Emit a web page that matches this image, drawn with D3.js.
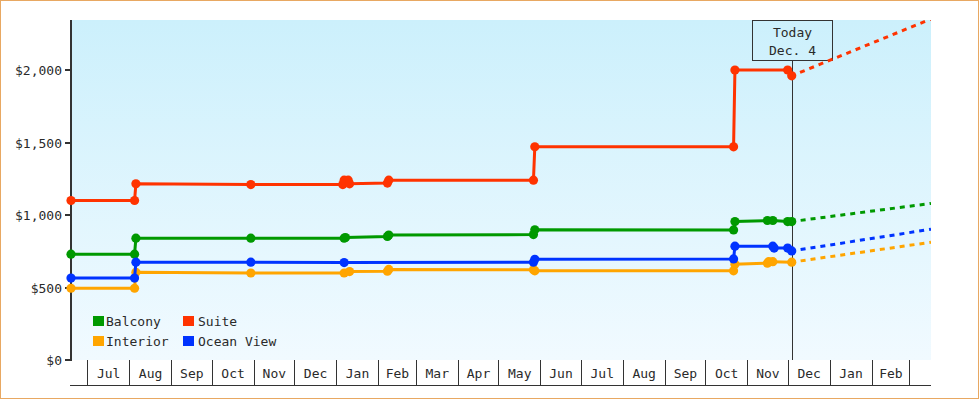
<!DOCTYPE html>
<html><head><meta charset="utf-8">
<script src="https://cdn.jsdelivr.net/npm/d3@7"></script>
<style>body{margin:0;background:#fff}svg{display:block}text{font-family:"DejaVu Sans Mono",monospace;font-size:13px;fill:#2a2a2a}</style>
</head><body><svg id="c" width="980" height="400"></svg>
<script>
const seriesNames = ["Balcony","Suite","Interior","Ocean View"];
const seriesColors = ["#009900","#ff3300","#ffa500","#0033ff"];
const yTicks = [0,500,1000,1500,2000];
const monthLabels = ["Jul","Aug","Sep","Oct","Nov","Dec","Jan","Feb","Mar","Apr","May","Jun","Jul","Aug","Sep","Oct","Nov","Dec","Jan","Feb"];

const suiteDates = ["2013-06-19","2013-08-05","2013-08-06","2013-10-30","2014-01-06","2014-01-07","2014-01-10","2014-01-11","2014-02-08","2014-02-09","2014-05-27","2014-05-28","2014-10-22","2014-10-23","2014-12-01","2014-12-04"];
const suitePrices = [1100,1100,1215,1210,1210,1240,1240,1215,1220,1240,1240,1470,1470,2000,2000,1960];
const balconyDates = ["2013-06-19","2013-08-05","2013-08-06","2013-10-30","2014-01-07","2014-01-08","2014-02-08","2014-02-09","2014-05-27","2014-05-28","2014-10-22","2014-10-23","2014-11-16","2014-11-20","2014-12-01","2014-12-04"];
const balconyPrices = [730,730,840,840,840,845,852,862,865,898,897,955,962,962,955,955];
const oceanDates = ["2013-06-19","2013-08-05","2013-08-06","2013-10-30","2014-01-07","2014-05-27","2014-05-28","2014-10-22","2014-10-23","2014-11-20","2014-11-21","2014-12-01","2014-12-04"];
const oceanPrices = [565,565,675,675,672,675,695,697,785,785,772,772,752];
const interiorDates = ["2013-06-19","2013-08-05","2013-08-06","2013-10-30","2014-01-07","2014-01-11","2014-02-08","2014-02-09","2014-05-27","2014-05-28","2014-10-22","2014-10-23","2014-11-16","2014-11-17","2014-11-20","2014-12-04"];
const interiorPrices = [495,495,605,600,600,610,612,625,622,615,615,660,668,678,678,675];

const projDates = ["2014-12-04","2015-03-17"];
const suiteProj = [1960,2352];
const balconyProj = [955,1080];
const oceanProj = [752,902];
const interiorProj = [675,812];

const todayDate = "2014-12-04";
const todayLabel = ["Today","Dec. 4"];
const domainStart = "2013-06-19", domainEnd = "2015-03-17", yMax = 2345;

const P = d3.utcParse("%Y-%m-%d");
const svg = d3.select("#c");
const L=71, R=931, T=20, B=360;
const x = d3.scaleUtc().domain([P(domainStart),P(domainEnd)]).range([L,R]);
const y = d3.scaleLinear().domain([0,yMax]).range([B,T]);

svg.append("rect").attr("x",0.5).attr("y",0.5).attr("width",978).attr("height",398).attr("fill","#fff").attr("stroke","#e8a862");

const defs = svg.append("defs");
const g = defs.append("linearGradient").attr("id","bg").attr("x1",0).attr("y1",0).attr("x2",0).attr("y2",1);
g.append("stop").attr("offset","0").attr("stop-color","#ccf0fc");
g.append("stop").attr("offset","1").attr("stop-color","#f1faff");
defs.append("clipPath").attr("id","clip").append("rect").attr("x",L).attr("y",T).attr("width",R-L).attr("height",B-T);

svg.append("rect").attr("x",L).attr("y",T).attr("width",R-L).attr("height",B-T).attr("fill","url(#bg)");

const months = d3.utcMonth.range(d3.utcMonth.ceil(x.domain()[0]), x.domain()[1]);
const ax = svg.append("g");
months.forEach((m,i)=>{
  const xs = Math.round(x(m))+0.5;
  ax.append("line").attr("x1",xs).attr("x2",xs).attr("y1",B).attr("y2",385).attr("stroke","#333");
  const next = d3.utcMonth.offset(m,1);
  if (next <= x.domain()[1] && i < monthLabels.length) {
    ax.append("text").attr("x",(x(m)+x(next))/2+0.5).attr("y",378).attr("text-anchor","middle").text(monthLabels[i]);
  }
});
ax.append("line").attr("x1",70).attr("x2",R).attr("y1",385.5).attr("y2",385.5).attr("stroke","#333");

svg.append("line").attr("x1",71).attr("x2",71).attr("y1",T).attr("y2",B+1).attr("stroke","#333").attr("stroke-width",2);
yTicks.forEach(v=>{
  const yy = Math.round(y(v));
  svg.append("line").attr("x1",65).attr("x2",71).attr("y1",yy).attr("y2",yy).attr("stroke","#333").attr("stroke-width",2);
  svg.append("text").attr("x",62).attr("y",yy+4.5).attr("text-anchor","end").text("$"+d3.format(",")(v));
});

const tx = Math.round(x(P(todayDate)))+0.5;
svg.append("line").attr("x1",tx).attr("x2",tx).attr("y1",60).attr("y2",B).attr("stroke","#333").attr("stroke-width",1);
svg.append("rect").attr("x",tx-40).attr("y",20.5).attr("width",80).attr("height",40).attr("fill","none").attr("stroke","#333");
svg.append("text").attr("x",tx).attr("y",37).attr("text-anchor","middle").text(todayLabel[0]);
svg.append("text").attr("x",tx).attr("y",55).attr("text-anchor","middle").text(todayLabel[1]);

const line = d3.line().x(d=>x(d[0])).y(d=>y(d[1]));
const series = [
  {d:balconyDates,v:balconyPrices,p:balconyProj,c:seriesColors[0]},
  {d:interiorDates,v:interiorPrices,p:interiorProj,c:seriesColors[2]},
  {d:oceanDates,v:oceanPrices,p:oceanProj,c:seriesColors[3]},
  {d:suiteDates,v:suitePrices,p:suiteProj,c:seriesColors[1]},
];
const plot = svg.append("g").attr("clip-path","url(#clip)");
series.forEach(s=>{
  const pts = s.d.map((d,i)=>[P(d),s.v[i]]);
  const proj = projDates.map((d,i)=>[P(d),s.p[i]]);
  plot.append("path").datum(proj).attr("d",line).attr("fill","none").attr("stroke",s.c).attr("stroke-width",3).attr("stroke-dasharray","5,5").attr("stroke-dashoffset",-9);
  svg.append("path").datum(pts).attr("d",line).attr("fill","none").attr("stroke",s.c).attr("stroke-width",3);
  svg.selectAll(null).data(pts).enter().append("circle").attr("cx",d=>x(d[0])).attr("cy",d=>y(d[1])).attr("r",4.6).attr("fill",s.c);
});

const legPos = [[93,316],[183,316],[93,336],[183,336]];
seriesNames.forEach((n,i)=>{
  svg.append("rect").attr("x",legPos[i][0]).attr("y",legPos[i][1]).attr("width",11).attr("height",10).attr("fill",seriesColors[i]);
  svg.append("text").attr("x",legPos[i][0]+(i%2?15:13)).attr("y",legPos[i][1]+10).text(n);
});
</script></body></html>
